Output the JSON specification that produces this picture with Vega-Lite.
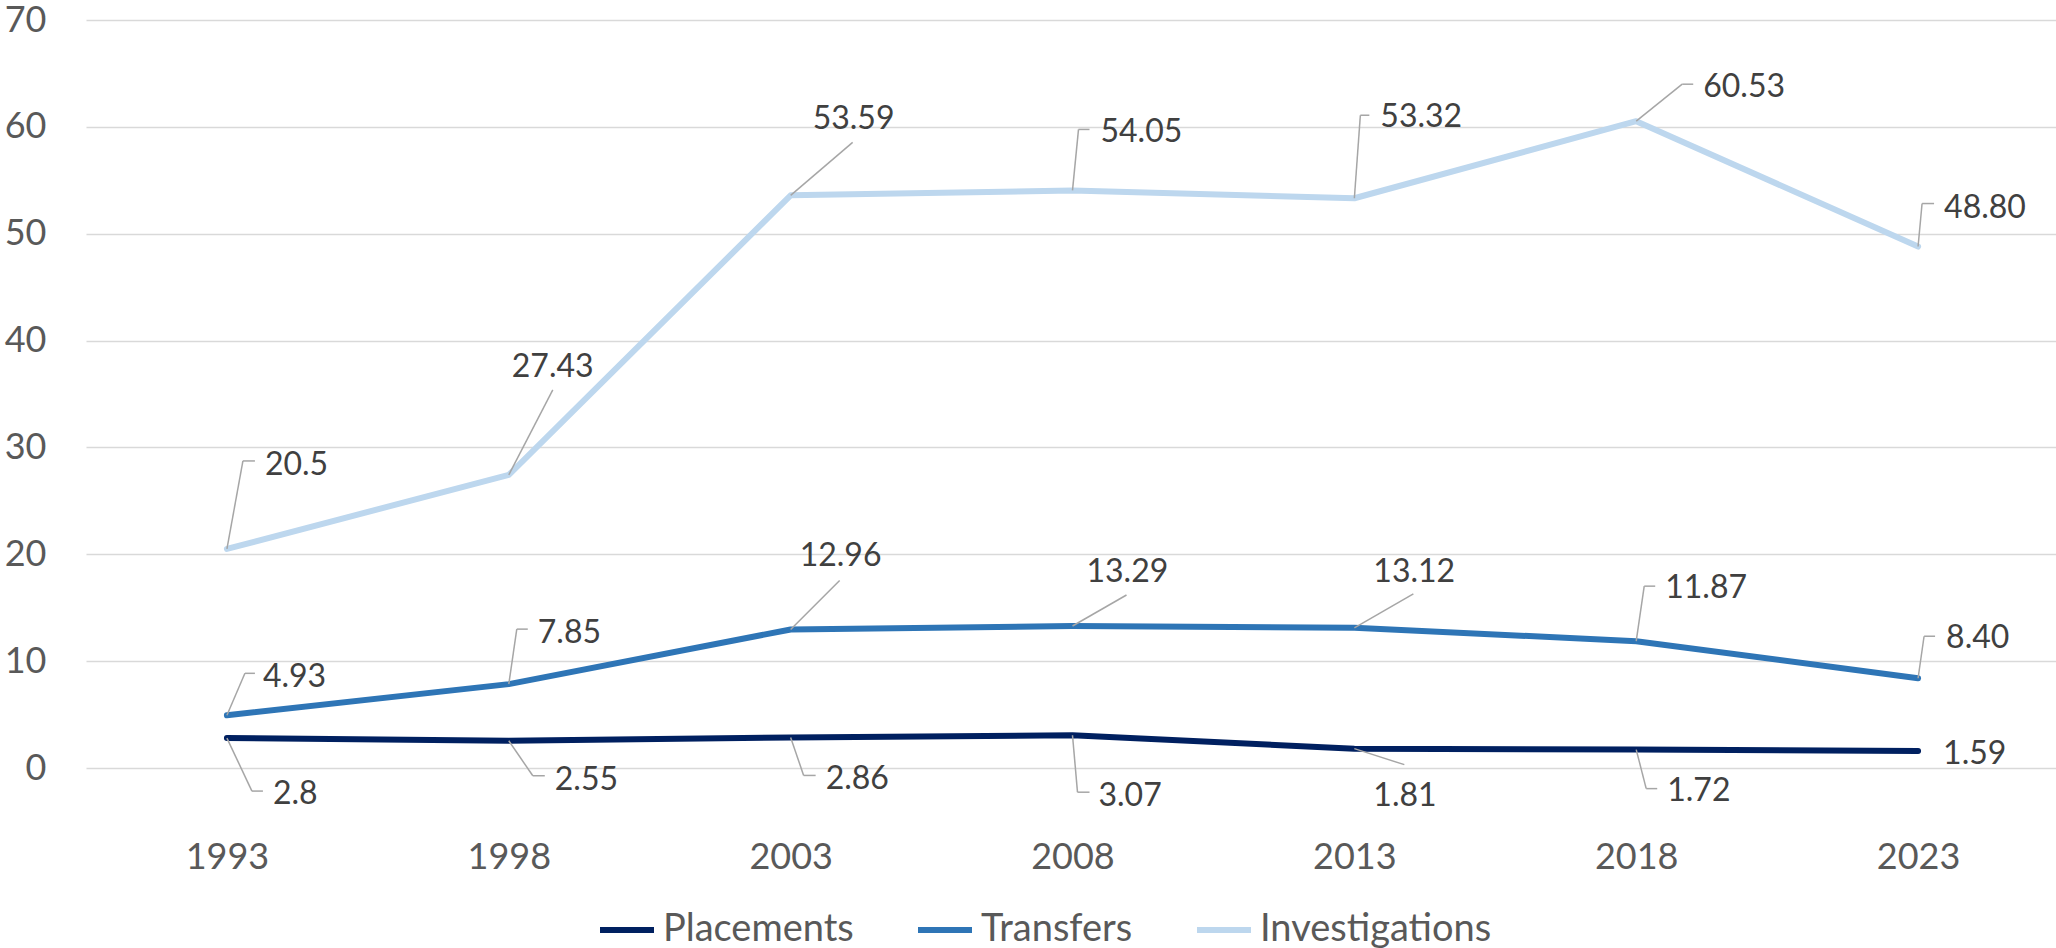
{
  "$schema": "https://vega.github.io/schema/vega-lite/v6.json",
  "autosize": {"type": "none"},
  "padding": {"left": 86, "top": 20, "right": 0, "bottom": 180},
  "width": 1973,
  "height": 748,
  "background": "white",
  "config": {
    "view": {"stroke": null},
    "font": "Lato",
    "text": {"fontSize": 32, "color": "#404040", "font": "Lato"},
    "rule": {"color": "#A6A6A6", "strokeWidth": 1.5}
  },
  "data": {
    "values": [
      {"series": "Placements", "year": 1993, "value": 2.8, "label": "2.8"},
      {"series": "Placements", "year": 1998, "value": 2.55, "label": "2.55"},
      {"series": "Placements", "year": 2003, "value": 2.86, "label": "2.86"},
      {"series": "Placements", "year": 2008, "value": 3.07, "label": "3.07"},
      {"series": "Placements", "year": 2013, "value": 1.81, "label": "1.81"},
      {"series": "Placements", "year": 2018, "value": 1.72, "label": "1.72"},
      {"series": "Placements", "year": 2023, "value": 1.59, "label": "1.59"},
      {"series": "Transfers", "year": 1993, "value": 4.93, "label": "4.93"},
      {"series": "Transfers", "year": 1998, "value": 7.85, "label": "7.85"},
      {"series": "Transfers", "year": 2003, "value": 12.96, "label": "12.96"},
      {"series": "Transfers", "year": 2008, "value": 13.29, "label": "13.29"},
      {"series": "Transfers", "year": 2013, "value": 13.12, "label": "13.12"},
      {"series": "Transfers", "year": 2018, "value": 11.87, "label": "11.87"},
      {"series": "Transfers", "year": 2023, "value": 8.4, "label": "8.40"},
      {"series": "Investigations", "year": 1993, "value": 20.5, "label": "20.5"},
      {"series": "Investigations", "year": 1998, "value": 27.43, "label": "27.43"},
      {"series": "Investigations", "year": 2003, "value": 53.59, "label": "53.59"},
      {"series": "Investigations", "year": 2008, "value": 54.05, "label": "54.05"},
      {"series": "Investigations", "year": 2013, "value": 53.32, "label": "53.32"},
      {"series": "Investigations", "year": 2018, "value": 60.53, "label": "60.53"},
      {"series": "Investigations", "year": 2023, "value": 48.8, "label": "48.80"}
    ]
  },
  "encoding": {
    "x": {
      "field": "year", "type": "ordinal",
      "scale": {"type": "point", "padding": 0.5},
      "axis": {"title": null, "domain": false, "ticks": false, "tickSize": 0, "grid": false, "labelAngle": 0, "labelPadding": 72, "labelFontSize": 36, "labelColor": "#595959", "labelFont": "Lato"}
    },
    "y": {
      "field": "value", "type": "quantitative",
      "scale": {"domain": [0, 70], "nice": false},
      "axis": {"title": null, "domain": false, "ticks": false, "tickSize": 0, "values": [0, 10, 20, 30, 40, 50, 60, 70], "labelPadding": 40, "labelFontSize": 36, "labelColor": "#595959", "labelFont": "Lato", "gridColor": "#D9D9D9", "gridWidth": 1.5}
    }
  },
  "layer": [
    {
      "mark": {"type": "line", "strokeWidth": 6, "strokeCap": "round", "strokeJoin": "round"},
      "encoding": {
        "color": {
          "field": "series", "type": "nominal",
          "scale": {"domain": ["Placements", "Transfers", "Investigations"], "range": ["#002060", "#2E75B6", "#BDD7EE"]},
          "legend": {"title": null, "orient": "none", "legendX": 511, "legendY": 880, "direction": "horizontal", "labelFontSize": 38, "labelColor": "#595959", "labelFont": "Lato", "labelLimit": 400, "symbolType": "stroke", "symbolSize": 2916, "symbolStrokeWidth": 6, "labelOffset": 6, "columnPadding": 52}
        }
      }
    },
    {"transform": [{"filter": "datum.series=='Investigations' && datum.year==1993"}], "layer": [
      {"mark": {"type": "rule", "x2Offset": 16, "y2Offset": -88}, "encoding": {"x2": {"field": "year"}, "y2": {"field": "value"}}},
      {"mark": {"type": "rule", "xOffset": 16, "yOffset": -88, "x2Offset": 28, "y2Offset": -88}, "encoding": {"x2": {"field": "year"}, "y2": {"field": "value"}}},
      {"mark": {"type": "text", "align": "left", "baseline": "middle", "dx": 38, "dy": -84}, "encoding": {"text": {"field": "label"}}}
    ]},
    {"transform": [{"filter": "datum.series=='Investigations' && datum.year==1998"}], "layer": [
      {"mark": {"type": "rule", "x2Offset": 44, "y2Offset": -85}, "encoding": {"x2": {"field": "year"}, "y2": {"field": "value"}}},
      {"mark": {"type": "text", "align": "left", "baseline": "middle", "dx": 3, "dy": -108}, "encoding": {"text": {"field": "label"}}}
    ]},
    {"transform": [{"filter": "datum.series=='Investigations' && datum.year==2003"}], "layer": [
      {"mark": {"type": "rule", "x2Offset": 62, "y2Offset": -53}, "encoding": {"x2": {"field": "year"}, "y2": {"field": "value"}}},
      {"mark": {"type": "text", "align": "left", "baseline": "middle", "dx": 22, "dy": -76}, "encoding": {"text": {"field": "label"}}}
    ]},
    {"transform": [{"filter": "datum.series=='Investigations' && datum.year==2008"}], "layer": [
      {"mark": {"type": "rule", "x2Offset": 6, "y2Offset": -61}, "encoding": {"x2": {"field": "year"}, "y2": {"field": "value"}}},
      {"mark": {"type": "rule", "xOffset": 6, "yOffset": -61, "x2Offset": 17, "y2Offset": -61}, "encoding": {"x2": {"field": "year"}, "y2": {"field": "value"}}},
      {"mark": {"type": "text", "align": "left", "baseline": "middle", "dx": 28, "dy": -58}, "encoding": {"text": {"field": "label"}}}
    ]},
    {"transform": [{"filter": "datum.series=='Investigations' && datum.year==2013"}], "layer": [
      {"mark": {"type": "rule", "x2Offset": 6, "y2Offset": -83}, "encoding": {"x2": {"field": "year"}, "y2": {"field": "value"}}},
      {"mark": {"type": "rule", "xOffset": 6, "yOffset": -83, "x2Offset": 15, "y2Offset": -83}, "encoding": {"x2": {"field": "year"}, "y2": {"field": "value"}}},
      {"mark": {"type": "text", "align": "left", "baseline": "middle", "dx": 26, "dy": -81}, "encoding": {"text": {"field": "label"}}}
    ]},
    {"transform": [{"filter": "datum.series=='Investigations' && datum.year==2018"}], "layer": [
      {"mark": {"type": "rule", "x2Offset": 46, "y2Offset": -37}, "encoding": {"x2": {"field": "year"}, "y2": {"field": "value"}}},
      {"mark": {"type": "rule", "xOffset": 46, "yOffset": -37, "x2Offset": 57, "y2Offset": -37}, "encoding": {"x2": {"field": "year"}, "y2": {"field": "value"}}},
      {"mark": {"type": "text", "align": "left", "baseline": "middle", "dx": 67, "dy": -34}, "encoding": {"text": {"field": "label"}}}
    ]},
    {"transform": [{"filter": "datum.series=='Investigations' && datum.year==2023"}], "layer": [
      {"mark": {"type": "rule", "x2Offset": 4, "y2Offset": -43}, "encoding": {"x2": {"field": "year"}, "y2": {"field": "value"}}},
      {"mark": {"type": "rule", "xOffset": 4, "yOffset": -43, "x2Offset": 16, "y2Offset": -43}, "encoding": {"x2": {"field": "year"}, "y2": {"field": "value"}}},
      {"mark": {"type": "text", "align": "left", "baseline": "middle", "dx": 26, "dy": -39}, "encoding": {"text": {"field": "label"}}}
    ]},
    {"transform": [{"filter": "datum.series=='Transfers' && datum.year==1993"}], "layer": [
      {"mark": {"type": "rule", "x2Offset": 18, "y2Offset": -42}, "encoding": {"x2": {"field": "year"}, "y2": {"field": "value"}}},
      {"mark": {"type": "rule", "xOffset": 18, "yOffset": -42, "x2Offset": 28, "y2Offset": -42}, "encoding": {"x2": {"field": "year"}, "y2": {"field": "value"}}},
      {"mark": {"type": "text", "align": "left", "baseline": "middle", "dx": 36, "dy": -38}, "encoding": {"text": {"field": "label"}}}
    ]},
    {"transform": [{"filter": "datum.series=='Transfers' && datum.year==1998"}], "layer": [
      {"mark": {"type": "rule", "x2Offset": 8, "y2Offset": -55}, "encoding": {"x2": {"field": "year"}, "y2": {"field": "value"}}},
      {"mark": {"type": "rule", "xOffset": 8, "yOffset": -55, "x2Offset": 19, "y2Offset": -55}, "encoding": {"x2": {"field": "year"}, "y2": {"field": "value"}}},
      {"mark": {"type": "text", "align": "left", "baseline": "middle", "dx": 29, "dy": -51}, "encoding": {"text": {"field": "label"}}}
    ]},
    {"transform": [{"filter": "datum.series=='Transfers' && datum.year==2003"}], "layer": [
      {"mark": {"type": "rule", "x2Offset": 49, "y2Offset": -49}, "encoding": {"x2": {"field": "year"}, "y2": {"field": "value"}}},
      {"mark": {"type": "text", "align": "left", "baseline": "middle", "dx": 9, "dy": -74}, "encoding": {"text": {"field": "label"}}}
    ]},
    {"transform": [{"filter": "datum.series=='Transfers' && datum.year==2008"}], "layer": [
      {"mark": {"type": "rule", "x2Offset": 54, "y2Offset": -31}, "encoding": {"x2": {"field": "year"}, "y2": {"field": "value"}}},
      {"mark": {"type": "text", "align": "left", "baseline": "middle", "dx": 14, "dy": -54}, "encoding": {"text": {"field": "label"}}}
    ]},
    {"transform": [{"filter": "datum.series=='Transfers' && datum.year==2013"}], "layer": [
      {"mark": {"type": "rule", "x2Offset": 59, "y2Offset": -34}, "encoding": {"x2": {"field": "year"}, "y2": {"field": "value"}}},
      {"mark": {"type": "text", "align": "left", "baseline": "middle", "dx": 19, "dy": -56}, "encoding": {"text": {"field": "label"}}}
    ]},
    {"transform": [{"filter": "datum.series=='Transfers' && datum.year==2018"}], "layer": [
      {"mark": {"type": "rule", "x2Offset": 8, "y2Offset": -55}, "encoding": {"x2": {"field": "year"}, "y2": {"field": "value"}}},
      {"mark": {"type": "rule", "xOffset": 8, "yOffset": -55, "x2Offset": 19, "y2Offset": -55}, "encoding": {"x2": {"field": "year"}, "y2": {"field": "value"}}},
      {"mark": {"type": "text", "align": "left", "baseline": "middle", "dx": 29, "dy": -53}, "encoding": {"text": {"field": "label"}}}
    ]},
    {"transform": [{"filter": "datum.series=='Transfers' && datum.year==2023"}], "layer": [
      {"mark": {"type": "rule", "x2Offset": 6, "y2Offset": -42}, "encoding": {"x2": {"field": "year"}, "y2": {"field": "value"}}},
      {"mark": {"type": "rule", "xOffset": 6, "yOffset": -42, "x2Offset": 17, "y2Offset": -42}, "encoding": {"x2": {"field": "year"}, "y2": {"field": "value"}}},
      {"mark": {"type": "text", "align": "left", "baseline": "middle", "dx": 28, "dy": -40}, "encoding": {"text": {"field": "label"}}}
    ]},
    {"transform": [{"filter": "datum.series=='Placements' && datum.year==1993"}], "layer": [
      {"mark": {"type": "rule", "x2Offset": 25, "y2Offset": 53}, "encoding": {"x2": {"field": "year"}, "y2": {"field": "value"}}},
      {"mark": {"type": "rule", "xOffset": 25, "yOffset": 53, "x2Offset": 36, "y2Offset": 53}, "encoding": {"x2": {"field": "year"}, "y2": {"field": "value"}}},
      {"mark": {"type": "text", "align": "left", "baseline": "middle", "dx": 46, "dy": 56}, "encoding": {"text": {"field": "label"}}}
    ]},
    {"transform": [{"filter": "datum.series=='Placements' && datum.year==1998"}], "layer": [
      {"mark": {"type": "rule", "x2Offset": 24, "y2Offset": 35}, "encoding": {"x2": {"field": "year"}, "y2": {"field": "value"}}},
      {"mark": {"type": "rule", "xOffset": 24, "yOffset": 35, "x2Offset": 36, "y2Offset": 35}, "encoding": {"x2": {"field": "year"}, "y2": {"field": "value"}}},
      {"mark": {"type": "text", "align": "left", "baseline": "middle", "dx": 46, "dy": 39}, "encoding": {"text": {"field": "label"}}}
    ]},
    {"transform": [{"filter": "datum.series=='Placements' && datum.year==2003"}], "layer": [
      {"mark": {"type": "rule", "x2Offset": 13, "y2Offset": 38}, "encoding": {"x2": {"field": "year"}, "y2": {"field": "value"}}},
      {"mark": {"type": "rule", "xOffset": 13, "yOffset": 38, "x2Offset": 25, "y2Offset": 38}, "encoding": {"x2": {"field": "year"}, "y2": {"field": "value"}}},
      {"mark": {"type": "text", "align": "left", "baseline": "middle", "dx": 35, "dy": 42}, "encoding": {"text": {"field": "label"}}}
    ]},
    {"transform": [{"filter": "datum.series=='Placements' && datum.year==2008"}], "layer": [
      {"mark": {"type": "rule", "x2Offset": 5, "y2Offset": 57}, "encoding": {"x2": {"field": "year"}, "y2": {"field": "value"}}},
      {"mark": {"type": "rule", "xOffset": 5, "yOffset": 57, "x2Offset": 17, "y2Offset": 57}, "encoding": {"x2": {"field": "year"}, "y2": {"field": "value"}}},
      {"mark": {"type": "text", "align": "left", "baseline": "middle", "dx": 26, "dy": 61}, "encoding": {"text": {"field": "label"}}}
    ]},
    {"transform": [{"filter": "datum.series=='Placements' && datum.year==2013"}], "layer": [
      {"mark": {"type": "rule", "x2Offset": 50, "y2Offset": 16}, "encoding": {"x2": {"field": "year"}, "y2": {"field": "value"}}},
      {"mark": {"type": "text", "align": "left", "baseline": "middle", "dx": 19, "dy": 47}, "encoding": {"text": {"field": "label"}}}
    ]},
    {"transform": [{"filter": "datum.series=='Placements' && datum.year==2018"}], "layer": [
      {"mark": {"type": "rule", "x2Offset": 10, "y2Offset": 39}, "encoding": {"x2": {"field": "year"}, "y2": {"field": "value"}}},
      {"mark": {"type": "rule", "xOffset": 10, "yOffset": 39, "x2Offset": 21, "y2Offset": 39}, "encoding": {"x2": {"field": "year"}, "y2": {"field": "value"}}},
      {"mark": {"type": "text", "align": "left", "baseline": "middle", "dx": 31, "dy": 41}, "encoding": {"text": {"field": "label"}}}
    ]},
    {"transform": [{"filter": "datum.series=='Placements' && datum.year==2023"}], "layer": [
      {"mark": {"type": "text", "align": "left", "baseline": "middle", "dx": 25, "dy": 3}, "encoding": {"text": {"field": "label"}}}
    ]}
  ]
}
